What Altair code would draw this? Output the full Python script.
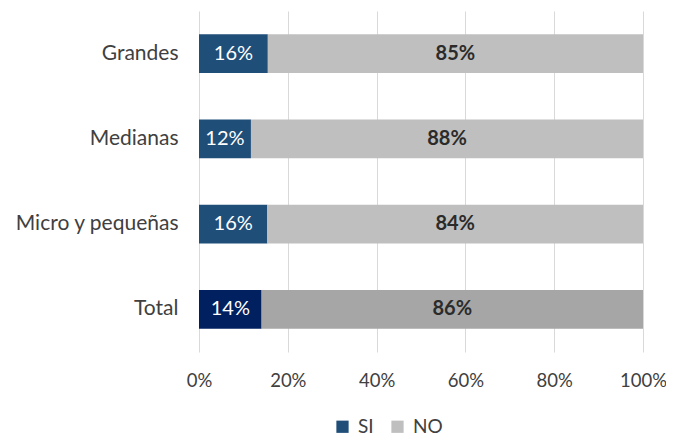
import altair as alt
import pandas as pd

categories = ["Grandes", "Medianas", "Micro y pequeñas", "Total"]
si_values = [15.5, 11.7, 15.4, 14.1]
no_values = [84.5, 88.3, 84.6, 85.9]
si_labels = ["16%", "12%", "16%", "14%"]
no_labels = ["85%", "88%", "84%", "86%"]
x_ticks = [0, 20, 40, 60, 80, 100]

color_keys = ["SI", "NO", "SI_T", "NO_T"]
color_range = ["#1F4E79", "#BFBFBF", "#002060", "#A6A6A6"]

rows = []
for i, c in enumerate(categories):
    tot = c == "Total"
    rows.append(dict(cat=c, serie="SI", key="SI_T" if tot else "SI",
                     val=si_values[i], lab=si_labels[i], ord=0))
    rows.append(dict(cat=c, serie="NO", key="NO_T" if tot else "NO",
                     val=no_values[i], lab=no_labels[i], ord=1))
df = pd.DataFrame(rows)

FONT = "Lato"

base = alt.Chart(df).transform_stack(
    stack="val", groupby=["cat"], as_=["x0", "x1"],
    sort=[alt.SortField("ord", order="ascending")]
).transform_calculate(mid="(datum.x0 + datum.x1) / 2")

yenc = alt.Y("cat:N", sort=categories, title=None,
             scale=alt.Scale(paddingInner=0.543, paddingOuter=0.2715),
             axis=alt.Axis(domain=False, ticks=False, labelPadding=21,
                           labelFontSize=21, labelColor="#404040",
                           labelFont=FONT, grid=False))

xscale = alt.Scale(domain=[0, 100], nice=False)

bars = base.mark_bar().encode(
    y=yenc,
    x=alt.X("x0:Q", scale=xscale, title=None,
            axis=alt.Axis(values=x_ticks, labelExpr="datum.value + '%'",
                          domain=False, ticks=False, grid=True,
                          gridColor="#D9D9D9", gridWidth=1,
                          labelFlush=False, labelBound=False,
                          labelPadding=19, labelFontSize=18.5,
                          labelColor="#404040", labelFont=FONT)),
    x2="x1:Q",
    color=alt.Color("key:N",
                    scale=alt.Scale(domain=color_keys, range=color_range),
                    legend=alt.Legend(values=["SI", "NO"], title=None,
                                      orient="none", direction="horizontal",
                                      legendX=134, legendY=406,
                                      symbolType="square", symbolSize=150,
                                      symbolStrokeWidth=0, labelOffset=6,
                                      labelFontSize=19, labelColor="#404040",
                                      labelFont=FONT, columnPadding=14,
                                      symbolOffset=0)),
)

si_text = base.transform_filter(alt.datum.serie == "SI").mark_text(
    color="white", fontSize=20, font=FONT
).encode(y=alt.Y("cat:N", sort=categories), x=alt.X("mid:Q", scale=xscale), text="lab:N")

no_text = base.transform_filter(alt.datum.serie == "NO").mark_text(
    color="#2B2B2B", fontSize=20, font=FONT, fontWeight="bold"
).encode(y=alt.Y("cat:N", sort=categories), x=alt.X("mid:Q", scale=xscale), text="lab:N")

chart = alt.layer(bars, si_text, no_text).properties(
    width=444, height=341,
    autosize=alt.AutoSizeParams(type="none"),
    padding={"left": 191, "top": 3, "right": 23, "bottom": 90},
).configure_view(stroke=None)

chart.save("out.html", embed_options={"renderer": "svg", "actions": False})
